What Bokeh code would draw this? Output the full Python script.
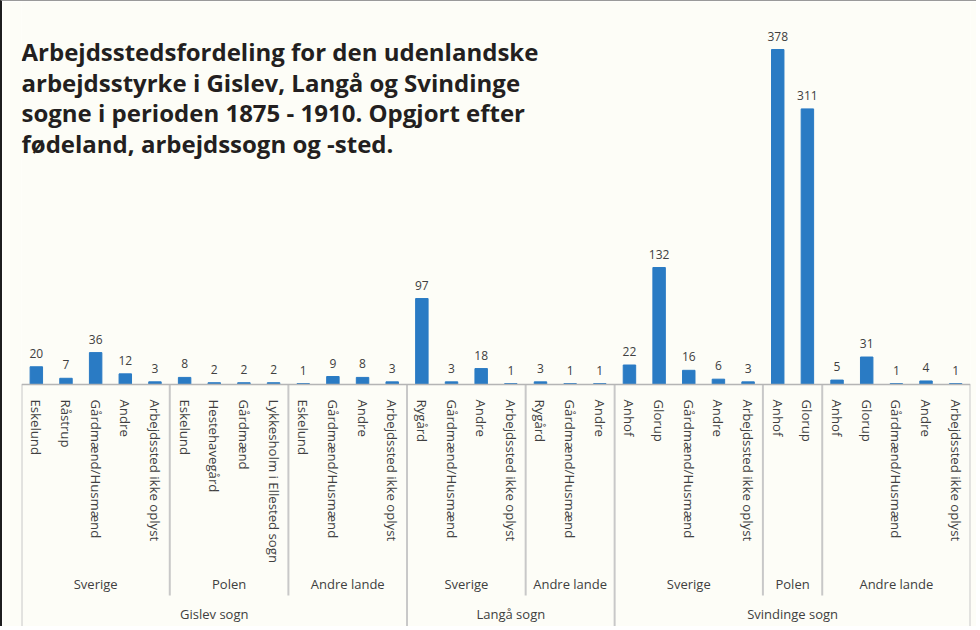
from bokeh.plotting import figure
from bokeh.models import FactorRange, ColumnDataSource, LabelSet, Label, Range1d
from bokeh.core.properties import value
from bokeh.embed import file_html
from bokeh.resources import INLINE

# --- data ---
sogn = (["Gislev sogn"] * 13) + (["Langå sogn"] * 7) + (["Svindinge sogn"] * 12)
land = (["Sverige"] * 5 + ["Polen"] * 4 + ["Andre lande"] * 4
        + ["Sverige"] * 4 + ["Andre lande"] * 3
        + ["Sverige"] * 5 + ["Polen"] * 2 + ["Andre lande"] * 5)
sted = ["Eskelund", "Råstrup", "Gårdmænd/Husmænd", "Andre", "Arbejdssted ikke oplyst",
        "Eskelund", "Hestehavegård", "Gårdmænd", "Lykkesholm i Ellested sogn",
        "Eskelund", "Gårdmænd/Husmænd", "Andre", "Arbejdssted ikke oplyst",
        "Rygård", "Gårdmænd/Husmænd", "Andre", "Arbejdssted ikke oplyst",
        "Rygård", "Gårdmænd/Husmænd", "Andre",
        "Anhof", "Glorup", "Gårdmænd/Husmænd", "Andre", "Arbejdssted ikke oplyst",
        "Anhof", "Glorup",
        "Anhof", "Glorup", "Gårdmænd/Husmænd", "Andre", "Arbejdssted ikke oplyst"]
antal = [20, 7, 36, 12, 3,
         8, 2, 2, 2,
         1, 9, 8, 3,
         97, 3, 18, 1,
         3, 1, 1,
         22, 132, 16, 6, 3,
         378, 311,
         5, 31, 1, 4, 1]
title_lines = ["Arbejdsstedsfordeling for den udenlandske",
               "arbejdsstyrke i Gislev, Langå og Svindinge",
               "sogne i perioden 1875 - 1910. Opgjort efter",
               "fødeland, arbejdssogn og -sted."]

factors = list(zip(sogn, land, sted))
src = ColumnDataSource(data=dict(x=factors, y=antal, lbl=[str(v) for v in antal]))

BG = "#fdfdf7"
TXT = "#404040"
FONT = "Open Sans"
SEP = "#c8c8c8"

W, H = 976, 626
BASE_PX = 383            # baseline distance from top of figure (pixels)
PX_PER_UNIT = 0.8862
Y_TOP = BASE_PX / PX_PER_UNIT
Y_BOT = -(H - BASE_PX) / PX_PER_UNIT
SUB_SEP_PX = 211

p = figure(x_range=FactorRange(*factors, factor_padding=0, subgroup_padding=0, group_padding=0,
                               range_padding=0),
           y_range=Range1d(Y_BOT, Y_TOP),
           width=W, height=H, output_backend="svg", toolbar_location=None,
           min_border_left=19, min_border_right=W - 968, min_border_top=0,
           min_border_bottom=0,
           background_fill_color=BG, border_fill_color=BG, outline_line_color=None)
p.styles = {"border-left": "2px solid #1e1e1e", "border-top": "1px solid #9a9a9a"}

# separator lines below the axis, at group boundaries
n = len(antal)
bounds_full = [0, n]
bounds_sub = []
for i in range(1, n):
    if sogn[i] != sogn[i - 1]:
        bounds_full.append(i)
    elif land[i] != land[i - 1]:
        bounds_sub.append(i)
p.segment(x0=bounds_full, y0=[0] * len(bounds_full), x1=bounds_full,
          y1=[Y_BOT] * len(bounds_full), line_color=SEP, line_width=2)
p.segment(x0=bounds_sub, y0=[0] * len(bounds_sub), x1=bounds_sub,
          y1=[-SUB_SEP_PX / PX_PER_UNIT] * len(bounds_sub), line_color=SEP, line_width=2)

p.vbar(x="x", top="y", width=0.42, source=src, color="#2a7bc4")

p.add_layout(LabelSet(x="x", y="y", text="lbl", source=src, y_offset=9,
                      text_align="center", text_baseline="bottom",
                      text_font=value(FONT), text_font_size="12px", text_color=TXT))

p.yaxis.visible = False
p.xgrid.visible = False
p.ygrid.visible = False

ax = p.xaxis[0]
ax.fixed_location = 0
ax.axis_line_color = "#b5b5b5"
ax.axis_line_width = 1.5
ax.major_tick_line_color = None
ax.minor_tick_line_color = None
ax.major_label_orientation = "vertical"
ax.major_label_text_font = FONT
ax.major_label_text_font_size = "13.2px"
ax.major_label_text_color = TXT
ax.major_label_standoff = 9
ax.subgroup_label_orientation = "horizontal"
ax.group_label_orientation = "horizontal"
ax.subgroup_text_font = FONT
ax.subgroup_text_font_size = "13px"
ax.subgroup_text_color = TXT
ax.subgroup_text_font_style = "normal"
ax.group_text_font = FONT
ax.group_text_font_size = "13px"
ax.group_text_color = TXT
ax.group_text_font_style = "normal"
ax.separator_line_color = None

for i, t in enumerate(title_lines):
    p.add_layout(Label(x=0, y=(H - 50) - i * 30.5, x_units="screen", y_units="screen",
                       text=t, text_font="Open Sans", text_font_style="bold",
                       text_font_size="24px", text_color="#231f20",
                       text_baseline="middle"))

open("out.html", "w").write(file_html(p, INLINE))
